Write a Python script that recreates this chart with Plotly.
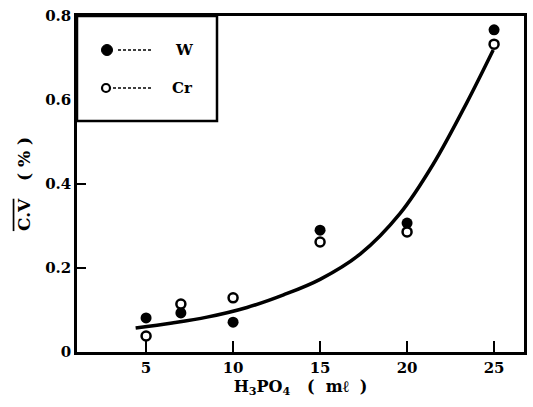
import plotly.graph_objects as go

# ---- data ----
x_vals = [5, 7, 10, 15, 20, 25]
w_vals = [0.081, 0.093, 0.071, 0.290, 0.307, 0.767]
cr_vals = [0.038, 0.114, 0.129, 0.262, 0.286, 0.733]

curve_x = [4.4, 6.5, 8.5, 10.8, 12.9, 15.0, 17.3, 19.6, 21.5, 23.45, 24.95]
curve_y = [0.057, 0.069, 0.083, 0.106, 0.136, 0.173, 0.233, 0.330, 0.447, 0.595, 0.719]

x_ticks = [5, 10, 15, 20, 25]
y_ticks = [0, 0.2, 0.4, 0.6, 0.8]
y_ticklabels = ["0", "0.2", "0.4", "0.6", "0.8"]

FONT = "DejaVu Serif"
NB = "\u00a0"

fig = go.Figure()
fig.add_trace(go.Scatter(x=curve_x, y=curve_y, mode="lines",
                         line=dict(color="black", width=3.5, shape="spline", smoothing=1.0),
                         showlegend=False, hoverinfo="skip"))
fig.add_trace(go.Scatter(x=x_vals, y=w_vals, mode="markers", name="W",
                         marker=dict(symbol="circle", size=11, color="black",
                                     line=dict(width=0)),
                         showlegend=False))
fig.add_trace(go.Scatter(x=x_vals, y=cr_vals, mode="markers", name="Cr",
                         marker=dict(symbol="circle", size=9, color="white",
                                     line=dict(width=2.5, color="black")),
                         showlegend=False))

axis_common = dict(showline=True, linecolor="black", linewidth=2.5, mirror=True,
                   ticks="inside", tickcolor="black", tickwidth=2,
                   showgrid=False, zeroline=False,
                   tickfont=dict(family=FONT, size=15, color="black", weight="bold"))

fig.update_xaxes(range=[1.03, 26.72], tickvals=x_ticks, ticklen=11,
                 title=dict(text="H<sub>3</sub>PO<sub>4</sub>" + NB * 3 + "(" + NB * 2 + "mℓ" + NB * 2 + ")",
                            font=dict(family=FONT, size=16, color="black", weight="bold"),
                            standoff=5),
                 **axis_common)
fig.update_yaxes(range=[0, 0.8], tickvals=y_ticks, ticktext=y_ticklabels, ticklen=9,
                 title=dict(text='<span style="text-decoration:overline">C.V</span>' + NB * 3 + "(" + NB + "%" + NB + ")",
                            font=dict(family=FONT, size=17, color="black", weight="bold"),
                            standoff=11),
                 **axis_common)

# ---- legend box (drawn) ----
def px2paper_x(px):
    return (px - 77) / 447

def px2paper_y(py):
    return (352 - py) / 336

shapes = [
    dict(type="rect", xref="paper", yref="paper", x0=0, x1=px2paper_x(217),
         y0=px2paper_y(121), y1=1, line=dict(color="black", width=2.5),
         fillcolor="white", layer="above"),
    dict(type="circle", xref="paper", yref="paper",
         x0=px2paper_x(101.5), x1=px2paper_x(112.5),
         y0=px2paper_y(55.5), y1=px2paper_y(44.5),
         fillcolor="black", line=dict(color="black", width=1), layer="above"),
    dict(type="line", xref="paper", yref="paper",
         x0=px2paper_x(118), x1=px2paper_x(153), y0=px2paper_y(50), y1=px2paper_y(50),
         line=dict(color="black", width=1.5, dash="3px,2px"), layer="above"),
    dict(type="circle", xref="paper", yref="paper",
         x0=px2paper_x(102), x1=px2paper_x(110),
         y0=px2paper_y(92), y1=px2paper_y(84),
         fillcolor="white", line=dict(color="black", width=2.2), layer="above"),
    dict(type="line", xref="paper", yref="paper",
         x0=px2paper_x(113), x1=px2paper_x(152), y0=px2paper_y(88), y1=px2paper_y(88),
         line=dict(color="black", width=1.5, dash="3px,2px"), layer="above"),
]
annotations = [
    dict(xref="paper", yref="paper", x=px2paper_x(173), y=px2paper_y(50),
         text="W", showarrow=False, xanchor="left", yanchor="middle",
         font=dict(family=FONT, size=15, color="black", weight="bold")),
    dict(xref="paper", yref="paper", x=px2paper_x(170), y=px2paper_y(88),
         text="Cr", showarrow=False, xanchor="left", yanchor="middle",
         font=dict(family=FONT, size=15, color="black", weight="bold")),
]

fig.update_layout(width=533, height=407,
                  margin=dict(l=77, r=9, t=16, b=55, autoexpand=False),
                  paper_bgcolor="white", plot_bgcolor="white",
                  shapes=shapes, annotations=annotations, showlegend=False)

fig.write_html("out.html", config={"displayModeBar": False},
               post_script="document.body.style.margin='0';document.body.style.overflow='hidden';")
